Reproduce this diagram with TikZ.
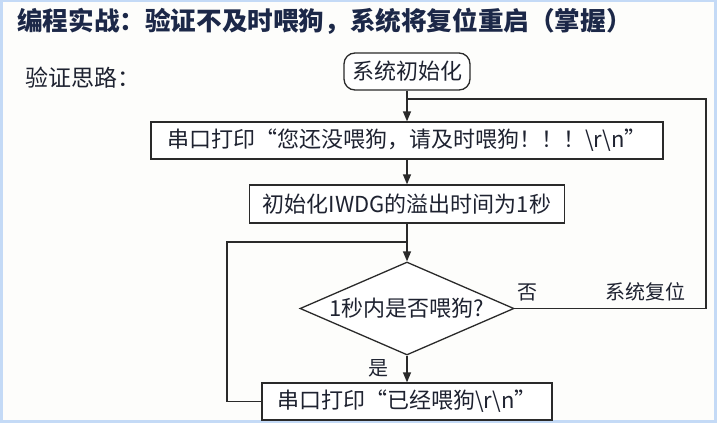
\documentclass[tikz,border=0pt]{standalone}
\usepackage{fontspec}
\setmainfont{Noto Sans CJK SC}
\usetikzlibrary{shapes.geometric,arrows.meta}
\definecolor{tituloazul}{HTML}{1C2848}
\definecolor{marcoazul}{HTML}{C4DAF6}
\definecolor{fondoslide}{HTML}{FDFDFB}
\definecolor{trazo}{HTML}{2A2A2A}
\definecolor{textonegro}{HTML}{1E2230}
\begin{document}
\begin{tikzpicture}[x=1pt,y=-1pt,
    caja/.style={draw=trazo, line width=1.3pt, fill=white, inner sep=0pt,
        minimum height=37pt, text=textonegro, font=\fontsize{22}{26}\selectfont},
    redondo/.style={caja, rounded corners=11pt},
    decision/.style={caja, diamond, aspect=2.3, minimum width=214pt, minimum height=93pt},
    flecha/.style={draw=trazo, line width=1.3pt, -{Triangle[length=10pt,width=8pt]}},
    linea/.style={draw=trazo, line width=1.3pt},
    rotulo/.style={text=textonegro, inner sep=0pt, font=\fontsize{20}{24}\selectfont}]
    % Fondo de la diapositiva
    \useasboundingbox (0,0) rectangle (717,423);
    \fill[marcoazul] (0,0) rectangle (717,423);
    \fill[fondoslide] (3,1.5) rectangle (714,419.5);
    % Titulo y subtitulo
    \node[anchor=west, inner sep=0pt, text=tituloazul,
        font=\fontsize{25.6}{30}\selectfont\bfseries] (title) at (17,21)
        {编程实战：验证不及时喂狗，系统将复位重启（掌握）};
    \node[anchor=west, inner sep=0pt, text=textonegro,
        font=\fontsize{23}{27}\selectfont] (idea) at (25,78) {验证思路：};
    % Cajas del diagrama
    \node[redondo, minimum width=126pt] (init) at (407,71.5) {系统初始化};
    \node[caja, minimum width=512pt] (warn) at (407,140.5)
        {串口打印“您还没喂狗，请及时喂狗！！！\textbackslash r\textbackslash n”};
    \node[caja, minimum width=315pt, minimum height=38pt] (iwdg) at (407,204)
        {初始化IWDG的溢出时间为1秒};
    \node[decision] (check) at (407,308.5) {1秒内是否喂狗?};
    \node[caja, minimum width=290pt] (fed) at (407,401.5)
        {串口打印“已经喂狗\textbackslash r\textbackslash n”};
    % Puntos de los lazos
    \coordinate (rcorner) at (706,99);
    \coordinate (rjoin) at (407,99);
    \coordinate (lcorner) at (227,242);
    \coordinate (ljoin) at (407,242);
    % Flechas principales
    \draw[flecha] (init) -- (warn);
    \draw[flecha] (warn) -- (iwdg);
    \draw[flecha] (iwdg) -- (check);
    \draw[flecha] (check) -- (fed);
    % Lazos de vuelta
    \draw[linea] (check.east) -| (rcorner) -- (rjoin);
    \draw[linea] (fed.west) -| (lcorner) -- (ljoin);
    % Rotulos
    \node[rotulo] (no) at (527,292) {否};
    \node[rotulo] (reset) at (645,292) {系统复位};
    \node[rotulo] (yes) at (378,368) {是};
\end{tikzpicture}
\end{document}
